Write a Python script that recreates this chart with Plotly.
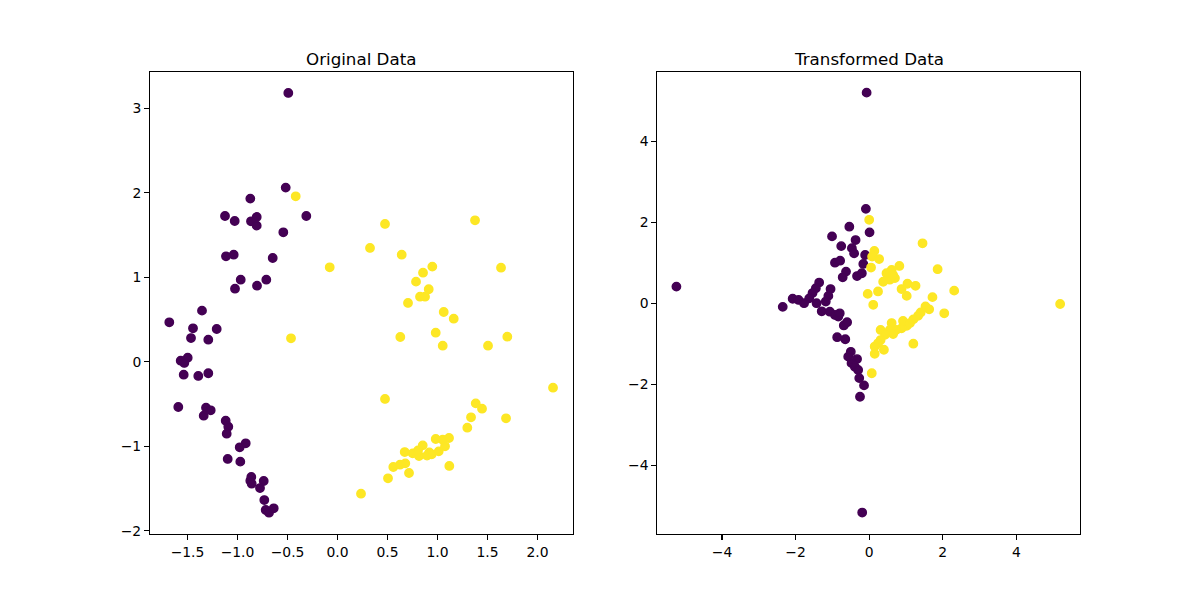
import plotly.graph_objects as go

# ---------------- Data ----------------
orig_x0 = [-0.492, -0.518, -0.872, -1.125, -1.028, -0.865, -0.808, -0.808, -0.312, -0.542,
           -1.115, -1.038, -0.648, -0.968, -0.712, -1.025, -0.805, -1.355, -1.682, -1.445,
           -1.208, -1.465, -1.292, -1.498, -1.568, -1.532, -1.538, -1.392, -1.292, -1.592,
           -1.315, -1.268, -1.338, -1.118, -1.092, -1.108, -0.918, -0.978, -1.098, -0.972,
           -0.862, -0.872, -0.858, -0.738, -0.775, -0.732, -0.718, -0.685, -0.638]
orig_y0 = [3.18, 2.06, 1.93, 1.724, 1.665, 1.661, 1.712, 1.61, 1.724, 1.531,
           1.247, 1.266, 1.227, 0.970, 0.970, 0.864, 0.899, 0.604, 0.466, 0.395,
           0.387, 0.280, 0.260, 0.047, 0.012, -0.015, -0.154, -0.169, -0.137, -0.536,
           -0.544, -0.575, -0.639, -0.698, -0.769, -0.852, -0.966, -1.013, -1.151, -1.183,
           -1.364, -1.408, -1.444, -1.412, -1.495, -1.637, -1.755, -1.787, -1.735]

orig_x1 = [-0.418, -0.078, -0.465, 0.475, 1.375, 0.325, 0.642, 1.635, 0.948, 0.855,
           0.785, 0.912, 0.825, 0.875, 0.705, 1.062, 1.162, 0.628, 0.982, 1.052,
           1.505, 1.698, 2.155, 0.475, 1.382, 1.445, 1.335, 1.685, 1.298, 0.982,
           1.052, 1.115, 0.852, 1.075, 0.672, 0.752, 0.815, 0.918, 0.895, 0.942,
           1.012, 0.805, 0.558, 0.625, 0.678, 0.715, 1.118, 0.505, 0.235]
orig_y1 = [1.957, 1.117, 0.277, 1.630, 1.673, 1.346, 1.266, 1.112, 1.125, 1.053,
           0.947, 0.857, 0.769, 0.769, 0.695, 0.588, 0.509, 0.292, 0.343, 0.189,
           0.189, 0.296, -0.308, -0.441, -0.493, -0.556, -0.658, -0.670, -0.781, -0.915,
           -0.923, -0.903, -0.990, -1.001, -1.069, -1.085, -1.116, -1.073, -1.112, -1.096,
           -1.061, -1.050, -1.246, -1.219, -1.203, -1.317, -1.234, -1.380, -1.562]

trans_x0 = [-0.07, -5.24, -0.09, 0.01, -0.54, -1.01, -0.37, -0.76, -0.47, -0.41,
            -0.11, -0.93, -0.79, -0.16, -0.63, -0.72, -0.33, -0.20, -1.36, -1.05,
            -1.45, -1.54, -1.63, -1.11, -1.18, -2.08, -1.92, -1.77, -2.35, -1.43,
            -1.29, -1.07, -0.93, -0.84, -0.80, -0.69, -0.60, -0.87, -0.65, -0.50,
            -0.57, -0.33, -0.48, -0.39, -0.30, -0.27, -0.14, -0.25, -0.19]
trans_y0 = [5.2, 0.41, 2.33, 1.75, 1.89, 1.65, 1.56, 1.41, 1.36, 1.23,
            1.19, 1.00, 1.05, 0.97, 0.78, 0.64, 0.67, 0.74, 0.51, 0.35,
            0.37, 0.25, 0.12, 0.18, 0.04, 0.11, 0.08, 0.0, -0.09, 0.0,
            -0.20, -0.21, -0.29, -0.33, -0.25, -0.55, -0.47, -0.84, -0.89, -1.20,
            -1.32, -1.38, -1.48, -1.57, -1.65, -1.85, -2.03, -2.31, -5.17]

trans_x1 = [0.00, 1.45, 0.14, 0.08, 0.27, 0.05, 0.82, 1.86, 0.47, 0.61,
            0.70, 0.56, 0.38, 0.65, 1.04, 1.26, 0.88, 1.02, 2.31, 1.72,
            -0.04, 0.24, 0.11, 5.19, 2.04, 1.53, 1.63, 1.40, 1.33, 1.20,
            1.11, 0.92, 0.61, 1.02, 0.88, 0.73, 0.56, 0.65, 0.31, 0.43,
            0.31, 0.24, 0.15, 0.40, 0.15, 1.20, 0.07]
trans_y1 = [2.06, 1.48, 1.29, 1.15, 1.09, 0.88, 0.92, 0.84, 0.74, 0.82,
            0.62, 0.58, 0.53, 0.70, 0.48, 0.43, 0.35, 0.18, 0.31, 0.15,
            0.23, 0.29, -0.04, -0.02, -0.25, -0.08, -0.15, -0.23, -0.31, -0.40,
            -0.49, -0.44, -0.49, -0.56, -0.62, -0.66, -0.66, -0.76, -0.66, -0.78,
            -0.91, -0.99, -1.07, -1.15, -1.25, -1.00, -1.73]

left_xticks = [-1.5, -1.0, -0.5, 0.0, 0.5, 1.0, 1.5, 2.0]
left_yticks = [-2, -1, 0, 1, 2, 3]
right_xticks = [-4, -2, 0, 2, 4]
right_yticks = [-4, -2, 0, 2, 4]

PURPLE = "#440154"
YELLOW = "#fde725"
FONT = "DejaVu Sans"


def fmt(v, dec):
    s = f"{v:.{dec}f}"
    return s.replace("-", "\u2212")


fig = go.Figure()

def add_scatter(x, y, color, xa, ya):
    fig.add_trace(go.Scatter(
        x=x, y=y, mode="markers", xaxis=xa, yaxis=ya, showlegend=False,
        marker=dict(size=8.4, color=color, line=dict(width=1.4, color=color)),
        hoverinfo="skip"))

add_scatter(orig_x0, orig_y0, PURPLE, "x", "y")
add_scatter(orig_x1, orig_y1, YELLOW, "x", "y")
add_scatter(trans_x0, trans_y0, PURPLE, "x2", "y2")
add_scatter(trans_x1, trans_y1, YELLOW, "x2", "y2")

axis_common = dict(
    showgrid=False, zeroline=False, showline=True, linecolor="black", linewidth=1.1,
    mirror=True, ticks="outside", ticklen=4.9, tickwidth=1.1, tickcolor="black",
    tickfont=dict(family=FONT, size=13.9, color="black"), automargin=False,
)

fig.update_layout(
    width=1200, height=600,
    paper_bgcolor="white", plot_bgcolor="white",
    margin=dict(l=0, r=0, t=0, b=0, autoexpand=False),
    xaxis=dict(domain=[0.125, 0.47727], range=[-1.875, 2.352],
               tickvals=left_xticks, ticktext=[fmt(v, 1) for v in left_xticks],
               anchor="y", **axis_common),
    yaxis=dict(domain=[0.11, 0.88], range=[-2.039, 3.428],
               tickvals=left_yticks, ticktext=[fmt(v, 0) for v in left_yticks],
               anchor="x", **axis_common),
    xaxis2=dict(domain=[0.54773, 0.9], range=[-5.76, 5.73],
                tickvals=right_xticks, ticktext=[fmt(v, 0) for v in right_xticks],
                anchor="y2", **axis_common),
    yaxis2=dict(domain=[0.11, 0.88], range=[-5.70, 5.71],
                tickvals=right_yticks, ticktext=[fmt(v, 0) for v in right_yticks],
                anchor="x2", **axis_common),
)

for xc, txt in [((0.125 + 0.47727) / 2, "Original Data"), ((0.54773 + 0.9) / 2, "Transformed Data")]:
    fig.add_annotation(x=xc, y=0.88, xref="paper", yref="paper", text=txt,
                       showarrow=False, xanchor="center", yanchor="bottom", yshift=1,
                       font=dict(family=FONT, size=16.7, color="black"))

fig.write_html("out.html", config={"displayModeBar": False, "staticPlot": True},
               post_script="document.body.style.margin='0';document.body.style.overflow='hidden';")
